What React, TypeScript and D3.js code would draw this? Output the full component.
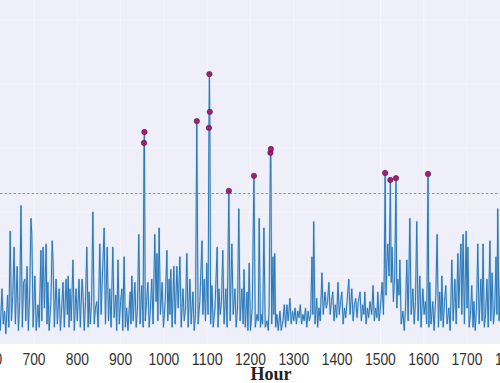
import React from 'react';
import * as d3 from 'd3';

const hours = [
  615, 619, 622, 626, 629, 632, 635, 639, 642, 645, 648, 651, 654, 657, 661, 664, 667, 670, 673, 676, 679, 681, 684, 687, 690, 693, 695, 698,
  702, 705, 709, 712, 716, 718, 721, 724, 728, 730, 732, 735, 739, 742, 744, 747, 751, 754, 758, 761, 764, 767, 770, 774, 777, 779, 781, 783, 786, 790, 793, 797, 800,
  804, 807, 811, 813, 816, 819, 822, 825, 827, 830, 833, 836, 839, 842, 845, 848, 852, 855, 858, 862, 865, 869, 872, 875, 878, 882, 885, 889, 891, 894, 897, 900, 903, 905, 908,
  911, 914, 917, 922, 924, 926, 929, 933, 936, 939, 942, 945, 949, 952, 954, 955, 957, 960, 963, 966, 969, 972, 975, 979, 982, 984, 986, 989, 992, 996, 999,
  1003, 1007, 1009, 1012, 1014, 1016, 1019, 1023, 1026, 1030, 1033, 1037, 1040, 1044, 1047, 1050, 1053, 1056, 1060, 1063, 1067, 1070, 1073, 1076, 1079, 1083, 1088, 1090, 1093, 1096, 1099, 1102, 1104, 1105, 1106,
  1108, 1111, 1114, 1118, 1123, 1125, 1127, 1130, 1133, 1136, 1139, 1143, 1146, 1150, 1153, 1157, 1160, 1164, 1167, 1170, 1173, 1176, 1180, 1183, 1185, 1188, 1192, 1194, 1197, 1200,
  1204, 1208, 1211, 1215, 1218, 1220, 1223, 1226, 1228, 1231, 1234, 1238, 1241, 1243, 1246, 1247, 1249, 1252, 1254, 1256, 1258, 1261, 1264, 1268, 1271, 1275, 1278, 1281, 1284, 1287, 1291, 1294,
  1297, 1300, 1303, 1306, 1309, 1312, 1315, 1318, 1321, 1324, 1327, 1330, 1333, 1336, 1339, 1342, 1344, 1346, 1349, 1353, 1355, 1358, 1361, 1365, 1368, 1372, 1375, 1378, 1381, 1384, 1387, 1390, 1393, 1396, 1399,
  1402, 1405, 1408, 1411, 1414, 1417, 1420, 1423, 1427, 1430, 1434, 1437, 1440, 1443, 1446, 1449, 1453, 1456, 1459, 1462, 1464, 1467, 1470, 1473, 1476, 1480, 1483, 1486, 1489, 1492, 1494, 1497, 1500, 1504, 1507,
  1509, 1511, 1513, 1515, 1517, 1520, 1523, 1525, 1527, 1530, 1533, 1536, 1538, 1540, 1543, 1545, 1548, 1552, 1555, 1558, 1561, 1564, 1568, 1571, 1575, 1578, 1581, 1584, 1587, 1591, 1594, 1598, 1601, 1604, 1607, 1610, 1612,
  1614, 1617, 1621, 1624, 1628, 1631, 1634, 1637, 1640, 1642, 1645, 1648, 1651, 1654, 1658, 1661, 1665, 1668, 1672, 1675, 1679, 1681, 1686, 1688, 1691, 1694, 1698, 1700,
  1702, 1705, 1708, 1711, 1714, 1716, 1719, 1722, 1725, 1728, 1732, 1735, 1737, 1740, 1743, 1746, 1749, 1753, 1755, 1758, 1761, 1764, 1767, 1769, 1771, 1774, 1778, 1781, 1785,
];

const values = [
  4, 12, 3, 16, 5, 9, 2, 14, 4, 34, 6, 14, 29, 5, 23, 3, 12, 42, 4, 18, 19, 6, 23, 3, 14, 38, 33, 4,
  20, 3, 11, 4, 28, 6, 29, 10, 30, 5, 18, 3, 12, 31, 25, 4, 19, 5, 16, 3, 10, 18, 4, 19, 8, 20, 4, 16, 6, 25, 3, 16, 6,
  19, 4, 19, 15, 3, 12, 29, 4, 15, 5, 12, 40, 5, 10, 12, 4, 30, 8, 20, 35, 5, 29, 6, 16, 4, 29, 7, 14, 3, 25, 5, 12, 16, 3, 26,
  4, 10, 3, 15, 5, 20, 6, 18, 4, 10, 33, 5, 17, 4, 61.6, 65, 6, 12, 18, 4, 10, 19, 5, 33, 12, 27, 6, 35, 8, 18, 4,
  12, 28, 6, 19, 8, 22, 4, 23, 5, 23, 10, 26, 4, 16, 6, 10, 27, 4, 19, 5, 15, 3, 8, 68.4, 5, 12, 31, 8, 19, 6, 24, 8, 66.3, 83.1, 71.3,
  5, 17, 4, 10, 29, 4, 16, 8, 12, 28, 5, 16, 4, 46.6, 6, 30, 8, 16, 4, 10, 41, 6, 16, 5, 22, 4, 15, 3, 24, 3,
  10, 51.3, 4, 8, 6, 38, 4, 8, 5, 35, 4, 6, 3, 10, 58.5, 59.7, 5, 26, 8, 27, 4, 8, 3, 9, 3, 6, 11, 4, 11, 6, 13, 5,
  9, 6, 10, 5, 9, 7, 11, 5, 8, 6, 10, 4, 9, 6, 8, 26, 8, 37, 5, 13, 4, 10, 6, 21, 8, 15, 10, 12, 18, 8, 12, 15, 6, 11, 7,
  18, 8, 12, 15, 5, 10, 7, 12, 19, 8, 16, 6, 11, 13, 7, 12, 15, 6, 11, 8, 15, 5, 10, 7, 12, 8, 17, 6, 10, 7, 15, 6, 10, 18, 8,
  22, 52.2, 14, 24, 30, 20, 50, 18, 29, 12, 20, 50.6, 10, 19, 14, 25, 5, 9, 3, 10, 25, 6, 38, 8, 16, 5, 12, 37, 6, 20, 4, 16, 8, 12, 5, 51.9, 4,
  18, 5, 12, 3, 14, 33, 4, 15, 6, 20, 4, 12, 17, 5, 10, 3, 25, 6, 19, 5, 27, 10, 30, 8, 33, 5, 34, 10,
  29, 4, 8, 17, 4, 12, 3, 10, 30, 5, 19, 6, 30, 4, 8, 19, 4, 31, 6, 21, 5, 10, 26, 8, 41, 6, 22, 5, 15,
];

const threshold = 45.8;
const xTicks = [600, 700, 800, 900, 1000, 1100, 1200, 1300, 1400, 1500, 1600, 1700, 1800];
const yGrid = [20, 40, 60, 80, 100];
const xTitle = 'Hour';

export default function App() {
  const W = 500;
  const H = 383;
  const plotBottom = 344;
  const x = d3.scaleLinear().domain([600, 1800]).range([-9.3, 510.3]);
  const y = d3.scaleLinear().domain([0, 100]).range([340, 20]);
  const pts: [number, number][] = hours.map((h, i) => [h, values[i]]);
  const line = d3
    .line<[number, number]>()
    .x((d) => x(d[0]))
    .y((d) => y(d[1]));
  const path = line(pts) || '';
  const anomalies = pts.filter((d) => d[1] > threshold);
  const ty = Math.round(y(threshold)) + 0.5;

  return (
    <svg
      width={W}
      height={H}
      style={{ position: 'absolute', left: 0, top: 0, background: '#ffffff' }}
    >
      <rect x={0} y={0} width={W} height={plotBottom} fill="#eeeff8" />
      {xTicks.map((t) => (
        <line key={'gx' + t} x1={x(t)} x2={x(t)} y1={0} y2={plotBottom} stroke="#f6f6fc" strokeWidth={1} />
      ))}
      {yGrid.map((v) => (
        <line key={'gy' + v} x1={0} x2={W} y1={y(v)} y2={y(v)} stroke="#f6f6fc" strokeWidth={1} />
      ))}
      <path d={path} fill="none" stroke="#9cc2e3" strokeWidth={2} strokeOpacity={0.55} strokeLinejoin="round" />
      <path d={path} fill="none" stroke="#2a78b8" strokeWidth={1} strokeLinejoin="round" />
      <line
        x1={0}
        x2={W}
        y1={ty}
        y2={ty}
        stroke="#f26a6a"
        strokeWidth={1.2}
        strokeDasharray="2.5,2"
      />
      {anomalies.map((d, i) => (
        <circle key={'a' + i} cx={x(d[0])} cy={y(d[1])} r={2.7} fill="#a0206f" stroke="#5e1250" strokeWidth={0.6} />
      ))}
      {xTicks.map((t) => (
        <text
          key={'tx' + t}
          x={x(t)}
          y={365}
          textAnchor="middle"
          fontFamily="'Liberation Sans', Arial, sans-serif"
          fontSize={16}
          fill="#333"
          textLength={String(t).length * 7.7}
          lengthAdjust="spacingAndGlyphs"
        >
          {t}
        </text>
      ))}
      <text
        x={271}
        y={380}
        textAnchor="middle"
        fontFamily="'Liberation Serif', 'Times New Roman', serif"
        fontWeight="bold"
        fontSize={18}
        fill="#222"
      >
        {xTitle}
      </text>
    </svg>
  );
}
